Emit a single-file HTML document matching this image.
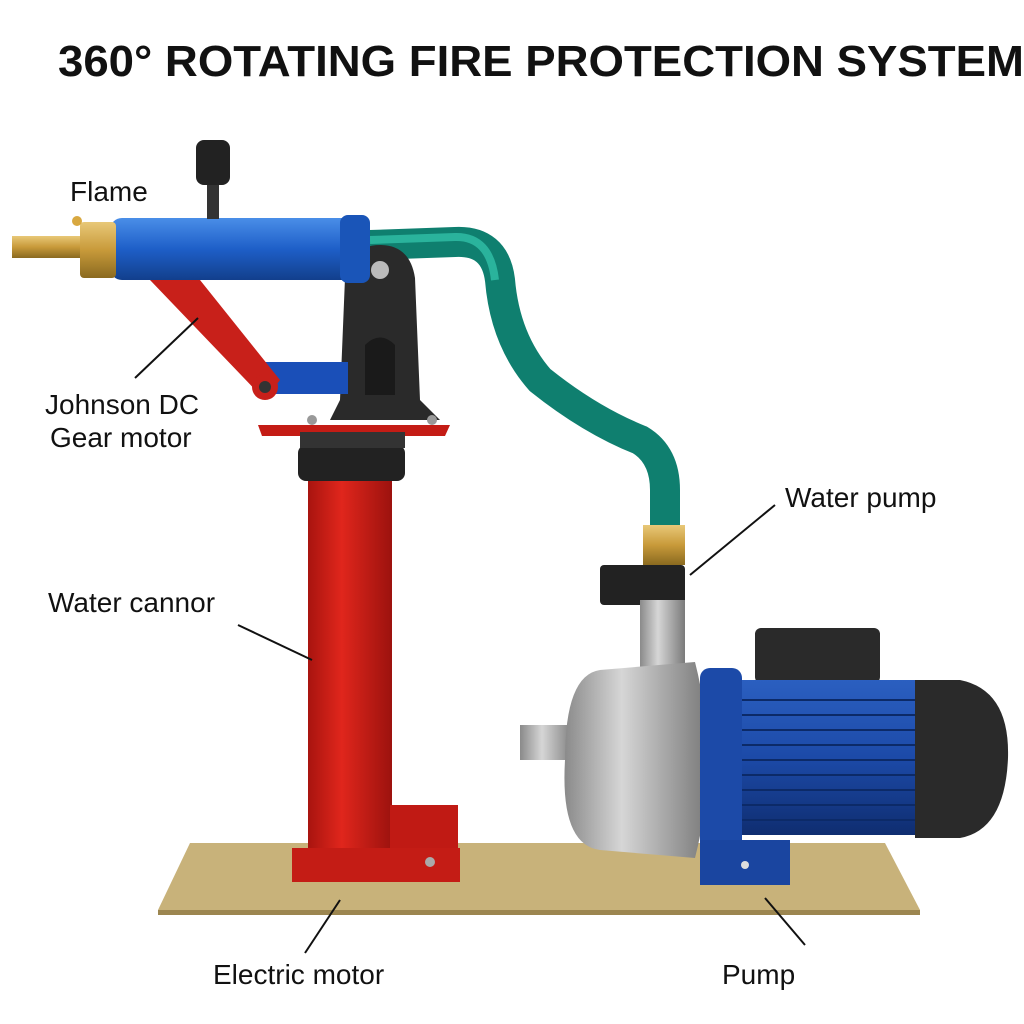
<!DOCTYPE html>
<html><head><meta charset="utf-8"><style>
html,body{margin:0;padding:0;background:#fff;}
svg{display:block;}
text{font-family:"Liberation Sans",sans-serif;fill:#111;}
</style></head><body>
<svg width="1024" height="1024" viewBox="0 0 1024 1024">
<defs>
<linearGradient id="red" x1="0" x2="1"><stop offset="0" stop-color="#a8140f"/><stop offset="0.4" stop-color="#e0261c"/><stop offset="1" stop-color="#9c120e"/></linearGradient>
<linearGradient id="blue" x1="0" y1="0" x2="0" y2="1"><stop offset="0" stop-color="#4a8ee8"/><stop offset="0.5" stop-color="#1e5fc8"/><stop offset="1" stop-color="#123f8c"/></linearGradient>
<linearGradient id="silver" x1="0" x2="1"><stop offset="0" stop-color="#8a8a8a"/><stop offset="0.4" stop-color="#d6d6d6"/><stop offset="1" stop-color="#7a7a7a"/></linearGradient>
<linearGradient id="motor" x1="0" y1="0" x2="0" y2="1"><stop offset="0" stop-color="#2b5fc0"/><stop offset="0.5" stop-color="#1c4aa8"/><stop offset="1" stop-color="#0f2d70"/></linearGradient>
<linearGradient id="brass" x1="0" y1="0" x2="0" y2="1"><stop offset="0" stop-color="#e8c878"/><stop offset="0.5" stop-color="#c89a3a"/><stop offset="1" stop-color="#8a6a20"/></linearGradient>
</defs>
<text x="58" y="76" font-size="44" font-weight="bold" textLength="966" lengthAdjust="spacingAndGlyphs">360° ROTATING FIRE PROTECTION SYSTEM</text>

<polygon points="190,843 885,843 920,910 158,910" fill="#c8b27a"/>
<polygon points="158,910 920,910 920,915 158,915" fill="#9c8650"/>

<path d="M370,245 L455,242 Q495,240 500,280 Q505,340 540,380 Q590,420 640,440 Q665,455 665,490 L665,528" fill="none" stroke="#0f7f6f" stroke-width="30"/>
<path d="M370,240 L455,237 Q490,236 495,280" fill="none" stroke="#2ab39c" stroke-width="8"/>

<rect x="308" y="470" width="84" height="390" fill="url(#red)"/>
<rect x="390" y="805" width="68" height="55" fill="#c01a14"/>
<rect x="292" y="848" width="168" height="34" fill="#c41c15"/>
<rect x="298" y="445" width="107" height="36" rx="8" fill="#222"/>
<polygon points="258,425 450,425 445,436 262,436" fill="#c41c15"/>
<rect x="300" y="432" width="105" height="16" fill="#333"/>
<circle cx="430" cy="862" r="5" fill="#aaa"/>
<path d="M345,278 Q350,245 380,245 Q410,245 415,278 L420,400 L440,420 L330,420 L340,400 Z" fill="#2a2a2a"/>
<circle cx="380" cy="270" r="9" fill="#bbb"/>
<path d="M365,395 L365,345 Q380,330 395,345 L395,395 Z" fill="#1a1a1a"/>
<circle cx="312" cy="420" r="5" fill="#999"/><circle cx="432" cy="420" r="5" fill="#999"/>
<rect x="258" y="362" width="90" height="32" fill="#1a4fb8"/>
<polygon points="150,280 200,280 280,380 265,400" fill="#c8201a"/>
<circle cx="265" cy="387" r="13" fill="#c8201a"/>
<circle cx="265" cy="387" r="6" fill="#333"/>
<rect x="110" y="218" width="255" height="62" rx="12" fill="url(#blue)"/>
<rect x="340" y="215" width="30" height="68" rx="8" fill="#1a55b8"/>
<rect x="12" y="236" width="75" height="22" fill="url(#brass)"/>
<rect x="80" y="222" width="36" height="56" rx="4" fill="url(#brass)"/>
<circle cx="77" cy="221" r="5" fill="#d8a840"/>
<rect x="196" y="140" width="34" height="45" rx="8" fill="#222"/>
<rect x="207" y="185" width="12" height="34" fill="#333"/>

<rect x="643" y="525" width="42" height="40" fill="url(#brass)"/>
<rect x="600" y="565" width="85" height="40" rx="4" fill="#222"/>
<rect x="640" y="600" width="45" height="70" fill="url(#silver)"/>
<rect x="520" y="725" width="55" height="35" fill="url(#silver)"/>
<path d="M600,670 L695,662 Q720,760 695,858 L600,850 Q560,845 565,760 Q565,675 600,670 Z" fill="url(#silver)"/>
<rect x="755" y="628" width="125" height="55" rx="6" fill="#2a2a2a"/>
<rect x="730" y="680" width="200" height="155" rx="10" fill="url(#motor)"/>
<g stroke="#0c2a68" stroke-width="2">
<line x1="735" y1="700" x2="925" y2="700"/><line x1="735" y1="715" x2="925" y2="715"/><line x1="735" y1="730" x2="925" y2="730"/><line x1="735" y1="745" x2="925" y2="745"/><line x1="735" y1="760" x2="925" y2="760"/><line x1="735" y1="775" x2="925" y2="775"/><line x1="735" y1="790" x2="925" y2="790"/><line x1="735" y1="805" x2="925" y2="805"/><line x1="735" y1="820" x2="925" y2="820"/>
</g>
<path d="M915,680 L960,680 Q1010,690 1008,758 Q1005,830 960,838 L915,838 Z" fill="#2a2a2a"/>
<rect x="700" y="668" width="42" height="215" rx="10" fill="#1c4aa8"/>
<rect x="700" y="840" width="90" height="45" fill="#1a45a0"/>
<circle cx="745" cy="865" r="4" fill="#ddd"/>

<g font-size="28">
<text x="70" y="201">Flame</text>
<text x="45" y="414">Johnson DC</text>
<text x="50" y="447">Gear motor</text>
<text x="48" y="612">Water cannor</text>
<text x="785" y="507">Water pump</text>
<text x="213" y="984">Electric motor</text>
<text x="722" y="984">Pump</text>
</g>
<g stroke="#111" stroke-width="2">
<line x1="135" y1="378" x2="198" y2="318"/>
<line x1="238" y1="625" x2="312" y2="660"/>
<line x1="305" y1="953" x2="340" y2="900"/>
<line x1="805" y1="945" x2="765" y2="898"/>
<line x1="775" y1="505" x2="690" y2="575"/>
</g>
</svg>
</body></html>
